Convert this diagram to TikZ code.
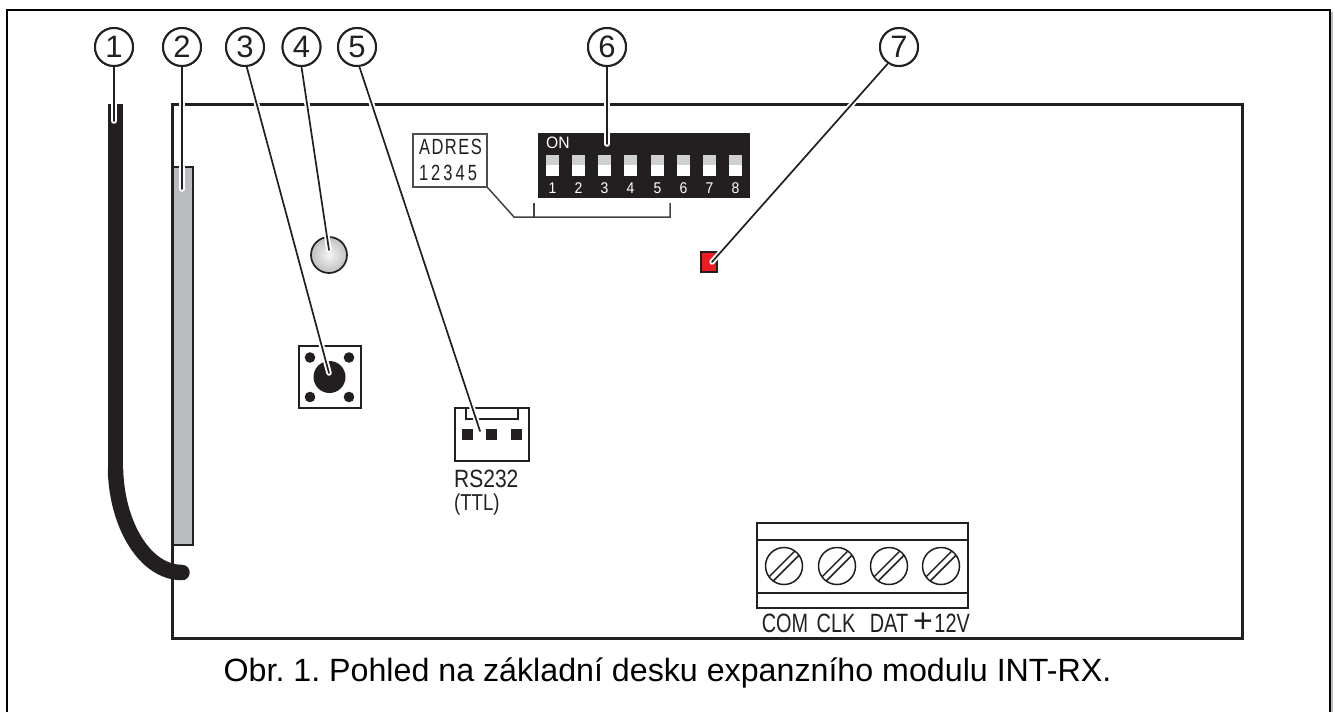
\documentclass[tikz,border=0pt]{standalone}
\usepackage{fontspec}
\usetikzlibrary{calc}
\setmainfont{Liberation Sans}
\frenchspacing
\definecolor{ink}{HTML}{231F20}
\definecolor{antgrey}{HTML}{B9BBBE}
\definecolor{swgrey}{HTML}{CDCFD1}
\definecolor{ledred}{HTML}{ED1C24}
\tikzset{
  board/.style={draw=ink,line width=3pt},
  callout/.style={circle,draw=ink,fill=white,line width=2pt,minimum size=38pt,inner sep=0pt,font=\fontsize{31}{31}\selectfont,text=ink},
  halo/.style={draw=white,line width=5.5pt,line cap=round},
  leader/.style={draw=ink,line width=1.7pt,line cap=round},
  thin part/.style={draw=ink,line width=2pt},
  narrow/.style={inner sep=0pt,text=ink,xscale=.84},
  swnum/.style={inner sep=0pt,text=white,font=\fontsize{15.5}{15.5}\selectfont,xscale=.9},
  screw/.style={circle,draw=ink,line width=1.5pt,minimum size=37pt,inner sep=0pt},
  pin/.style={fill=ink,minimum size=11pt,inner sep=0pt},
  hole/.style={circle,fill=ink,minimum size=10.6pt,inner sep=0pt},
  termlabel/.style={inner sep=0pt,text=ink,font=\fontsize{26.5}{26.5}\selectfont,xscale=.75,anchor=base},
}
\begin{document}
\begin{tikzpicture}[x=1pt,y=-1pt]
\useasboundingbox (0,0) rectangle (1335,712);
% frame
\draw[black,line width=2pt] (7,712) -- (7,10) -- (1330,10) -- (1330,712);
\draw[black!25,line width=1.5pt] (1332,12) -- (1332,712);
% board
\draw[board] (172.5,104) rectangle (1242,638.5);
% antenna
\draw[fill=antgrey,draw=ink,line width=2pt] (172.5,167) rectangle (193,544.5);
\draw[board,line cap=rect] (172.5,104) -- (172.5,638.5);
% cable
\draw[ink,line width=15.5pt,line cap=butt] (115.5,104) -- (115.5,470);
\draw[ink,line width=15.5pt,line cap=round] (115.5,470) .. controls (117,525) and (145,572.5) .. (182,572.5);
% LED
\node[circle,draw=ink,line width=1.7pt,minimum size=36pt,inner sep=0pt,inner color=gray!8,outer color=gray!50] (led) at (329,255) {};
% button
\node[draw=ink,line width=2pt,fill=white,minimum size=62pt,inner sep=0pt] (btn) at (329.5,377) {};
\node[circle,fill=ink,minimum size=32pt,inner sep=0pt] (cap) at (329.5,377) {};
\node[hole] (h1) at (310,357.5) {};
\node[hole] (h2) at (349,357.5) {};
\node[hole] (h3) at (310,397) {};
\node[hole] (h4) at (349,397) {};
% connector
\node[draw=ink,line width=2pt,minimum width=74pt,minimum height=53pt,inner sep=0pt] (conn) at (492,434.5) {};
\draw[thin part] (466,408) -- (466,419) -- (518,419) -- (518,408);
\node[pin] (p1) at (467.5,434.5) {};
\node[pin] (p2) at (491.5,434.5) {};
\node[pin] (p3) at (516.5,434.5) {};
\node[narrow,anchor=base west,font=\fontsize{25}{25}\selectfont] (rs) at (454,487) {RS232};
\node[narrow,anchor=base west,xscale=.96,font=\fontsize{23}{23}\selectfont] (ttl) at (454,510) {(TTL)};
% DIP switch
\node[fill=ink,minimum width=212pt,minimum height=65pt,inner sep=0pt] (dip) at (644,165.5) {};
\node[anchor=base west,inner sep=0pt,text=white,font=\fontsize{16.5}{16.5}\selectfont,xscale=.95] (on) at (546,148.5) {ON};
\foreach \i/\xx in {1/546,2/572,3/598,4/624,5/651,6/677,7/703,8/729}{
  \fill[swgrey] (\xx,155) rectangle ++(13,10);
  \fill[white] (\xx,165) rectangle ++(13,11);
  \node[swnum] (n\i) at (\xx+6.5,188.5) {\i};
}
% address box
\node[draw=ink!80,line width=1.5pt,fill=white,minimum width=74pt,minimum height=53pt,inner sep=0pt] (adr) at (450,160.5) {};
\node[inner sep=0pt,text=ink,font=\fontsize{22}{22}\selectfont,xscale=.75] (adrt) at (450.5,147) {A\hspace{2pt}D\hspace{2pt}R\hspace{2pt}E\hspace{2pt}S};
\node[inner sep=0pt,text=ink,font=\fontsize{22}{22}\selectfont,xscale=.75] (adrn) at (448,173) {1\hspace{4pt}2\hspace{4pt}3\hspace{4pt}4\hspace{4pt}5};
\coordinate (b1) at (514,217);
\coordinate (b2) at (670,217);
\coordinate (b3) at (670,203);
\coordinate (b4) at (534,217);
\coordinate (b5) at (534,203);
\draw[ink!85,line width=1.5pt] (adr.south east) -- (b1) -- (b2) -- (b3);
\draw[ink!85,line width=1.5pt] (b4) -- (b5);
% red LED
\node[draw=ink,line width=2pt,fill=ledred,minimum width=16pt,minimum height=20pt,inner sep=0pt] (red) at (708.5,261.5) {};
% terminal
\node[draw=ink,line width=2pt,minimum width=211pt,minimum height=85pt,inner sep=0pt] (term) at (862.5,565.5) {};
\coordinate (tl1) at (757,540);
\coordinate (tr1) at (968,540);
\coordinate (tl2) at (757,593);
\coordinate (tr2) at (968,593);
\draw[thin part] (tl1) -- (tr1);
\draw[thin part] (tl2) -- (tr2);
\foreach \i/\xx in {1/784,2/837,3/889,4/941}{
  \node[screw] (s\i) at (\xx,566) {};
  \draw[ink,line width=1.5pt] ($(\xx,566)+(-14.6,10.4)$) -- ($(\xx,566)+(10.4,-14.6)$);
  \draw[ink,line width=1.5pt] ($(\xx,566)+(-10.4,14.6)$) -- ($(\xx,566)+(14.6,-10.4)$);
}
\node[termlabel] (com) at (785,632.5) {COM};
\node[termlabel] (clk) at (836,632.5) {CLK};
\node[termlabel] (dat) at (889,632.5) {DAT};
\node[termlabel] (v12) at (941.5,632.5) {\scalebox{1.33}[1]{\fontsize{34}{34}\selectfont +}\hspace{2pt}12V};
% callouts
\node[callout] (c1) at (114,47) {1};
\node[callout] (c2) at (182,47) {2};
\node[callout] (c3) at (245,47) {3};
\node[callout] (c4) at (301.5,47) {4};
\node[callout] (c5) at (357,47) {5};
\node[callout] (c6) at (607,47) {6};
\node[callout] (c7) at (899,47) {7};
\coordinate (t1) at (114,121);
\coordinate (t2) at (182,189);
\coordinate (t3) at (329,373);
\coordinate (t4) at (329,250);
\coordinate (t5) at (480,431);
\coordinate (t6) at (607,144);
\coordinate (t7) at (712,262);
\foreach \i/\a in {1/-90,2/-90,3/-85,4/-90,5/-83,6/-90,7/-124}{
  \path[halo] (c\i.\a) -- (t\i);
  \node[callout] at (c\i) {\i};
  \path[leader] (c\i.\a) -- (t\i);
}
% caption
\node[inner sep=0pt,anchor=base,text=black,font=\fontsize{32.2}{32.2}\selectfont] (cap1) at (667.5,681) {Obr. 1. Pohled na základní desku expanzního modulu INT-RX.};
\end{tikzpicture}
\end{document}
